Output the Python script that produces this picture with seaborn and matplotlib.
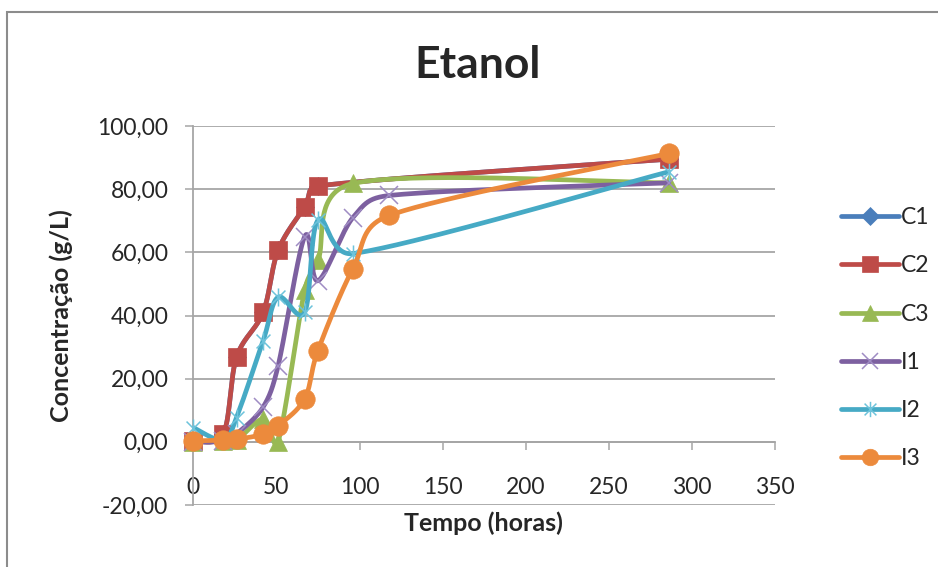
import seaborn as sns
import matplotlib.pyplot as plt
import matplotlib.patches as mpatches
from matplotlib.lines import Line2D
from matplotlib.path import Path
import pandas as pd
import numpy as np

# sampling times (horas)
tempo = [0, 18, 26, 42, 51, 67, 75, 96, 118, 286]

# etanol (g/L) per ensaio, nan = no sample
C1 = [0.3, 2.5, 26.8, 41.0, 60.6, 74.4, 81.0, np.nan, np.nan, 89.5]
C2 = [0.3, 2.5, 26.8, 41.0, 60.6, 74.4, 81.0, np.nan, np.nan, 89.5]
C3 = [0.0, 0.3, 0.5, 7.2, 0.0, 48.0, 57.5, 81.8, np.nan, 82.0]
I1 = [0.0, 0.2, 2.5, 11.0, 24.0, 65.0, 51.0, 71.0, 78.0, 82.0]
I2 = [4.5, 0.5, 7.7, 32.0, 45.8, 41.0, 70.2, 59.6, np.nan, 85.5]
I3 = [0.3, 0.5, 0.8, 2.4, 5.1, 13.6, 28.9, 54.8, 71.7, 91.3]

names = ["C1", "C2", "C3", "I1", "I2", "I3"]
series = [C1, C2, C3, I1, I2, I3]
cores = ["#4A7EBB", "#BE4B48", "#98B954", "#7D60A0", "#46AAC5", "#EC8A3C"]
cores_marc = ["#4A7EBB", "#BE4B48", "#98B954", "#9F8CC4", "#6DC3DB", "#EC8A3C"]

# excel style asterisk (x + vertical bar)
ast = Path([(-1, -1), (1, 1), (-1, 1), (1, -1), (0, -1.3), (0, 1.3)],
           [Path.MOVETO, Path.LINETO, Path.MOVETO, Path.LINETO, Path.MOVETO, Path.LINETO])
marcas = ["D", "s", "^", "x", ast, "o"]
tam = [9, 13, 13, 13, 13, 14]

sx = 581 / 350.0   # px per hour
sy = 379 / 120.0   # px per g/L


def suaviza(x, y, n=40):
    # excel-like smoothed line (bezier, tension 1/6, capped)
    P = np.column_stack([np.asarray(x, float) * sx, np.asarray(y, float) * sy])
    m = len(P)
    out = []
    for i in range(m - 1):
        p0 = P[i - 1] if i > 0 else P[i]
        p1, p2 = P[i], P[i + 1]
        p3 = P[i + 2] if i + 2 < m else P[i + 1]
        d12 = np.hypot(*(p2 - p1))
        d02 = np.hypot(*(p2 - p0))
        d13 = np.hypot(*(p3 - p1))
        f1 = 1 / 6.0
        f2 = 1 / 6.0
        if d02 / 6.0 >= d12 / 2.0 and d02 > 0:
            f1 = d12 / (2 * d02)
        if d13 / 6.0 >= d12 / 2.0 and d13 > 0:
            f2 = d12 / (2 * d13)
        c1 = p1 + f1 * (p2 - p0)
        c2 = p2 - f2 * (p3 - p1)
        t = np.linspace(0, 1, n)[:, None]
        seg = (1 - t) ** 3 * p1 + 3 * (1 - t) ** 2 * t * c1 + 3 * (1 - t) * t ** 2 * c2 + t ** 3 * p2
        out.append(seg if i == 0 else seg[1:])
    s = np.vstack(out)
    return s[:, 0] / sx, s[:, 1] / sy


sns.set_theme(style="white")
plt.rcParams["font.family"] = ["Lato", "DejaVu Sans"]

fig = plt.figure(figsize=(9.38, 5.67), dpi=100)
ax = fig.add_axes([193.3 / 938, 1 - 505 / 567, (775 - 193.3) / 938, (505 - 126) / 567])

handles = []
for k, (nome, vals) in enumerate(zip(names, series)):
    df = pd.DataFrame({"t": tempo, "c": vals}).dropna()
    xs, ys = suaviza(df["t"].values, df["c"].values)
    sm = pd.DataFrame({"t": xs, "c": ys})
    sns.lineplot(data=sm, x="t", y="c", ax=ax, sort=False, estimator=None,
                 color=cores[k], linewidth=3.4, zorder=3 + 2 * k, legend=False)
    fino = marcas[k] in ("x",) or marcas[k] is ast
    ax.plot(df["t"], df["c"], linestyle="none", marker=marcas[k], markersize=tam[k],
            color=cores_marc[k], markeredgecolor=cores_marc[k],
            markeredgewidth=1.1 if fino else 0.5, zorder=4 + 2 * k, clip_on=False)
    handles.append(Line2D([], [], color=cores[k], linewidth=3.4, marker=marcas[k],
                          markersize=(11 if k == 0 else tam[k]) * 0.85,
                          markerfacecolor=cores_marc[k], markeredgecolor=cores_marc[k],
                          markeredgewidth=1.1 if fino else 0.5))

ax.set_xlim(0, 350)
ax.set_ylim(-20, 100)
ax.set_xticks(np.arange(0, 351, 50))
ax.set_yticks(np.arange(-20, 101, 20))
ax.set_yticklabels([f"{v:.2f}".replace(".", ",") for v in np.arange(-20, 101, 20)])
ax.grid(axis="y", color="#A6A6A6", linewidth=1.3)
ax.grid(axis="x", visible=False)
for s in ["top", "right"]:
    ax.spines[s].set_visible(False)
ax.spines["bottom"].set_position(("data", 0))
ax.spines["bottom"].set_color("#A6A6A6")
ax.spines["left"].set_color("#A6A6A6")
ax.spines["bottom"].set_linewidth(1.3)
ax.spines["left"].set_linewidth(1.3)
ax.tick_params(axis="x", direction="out", length=6, width=1.1, color="#A6A6A6",
               pad=19, labelsize=16.5, bottom=True)
ax.tick_params(axis="y", direction="out", length=6, width=1.1, color="#A6A6A6",
               pad=12, labelsize=16.5, left=True)
ax.set_xlabel("")
ax.set_ylabel("")

fig.text(478 / 938, 1 - 65 / 567, "Etanol", fontsize=32, fontweight="bold",
         ha="center", va="center")
fig.text(483 / 938, 1 - 523 / 567, "Tempo (horas)", fontsize=18, fontweight="bold",
         ha="center", va="center")
fig.text(61 / 938, 1 - 316 / 567, "Concentração (g/L)", fontsize=18, fontweight="bold",
         ha="center", va="center", rotation=90)

fig.legend(handles, names, loc="upper left", bbox_to_anchor=(830 / 938, 1 - 196 / 567),
           frameon=False, fontsize=16.5, handlelength=2.5, handletextpad=0.1,
           labelspacing=1.18, borderpad=0)

borda = mpatches.Rectangle((7 / 938, -0.1), 1.2, 1 - 12 / 567 + 0.1,
                           transform=fig.transFigure, fill=False,
                           edgecolor="#8C8C8C", linewidth=1.5)
fig.patches.append(borda)

fig.savefig("out.png", dpi=100)
